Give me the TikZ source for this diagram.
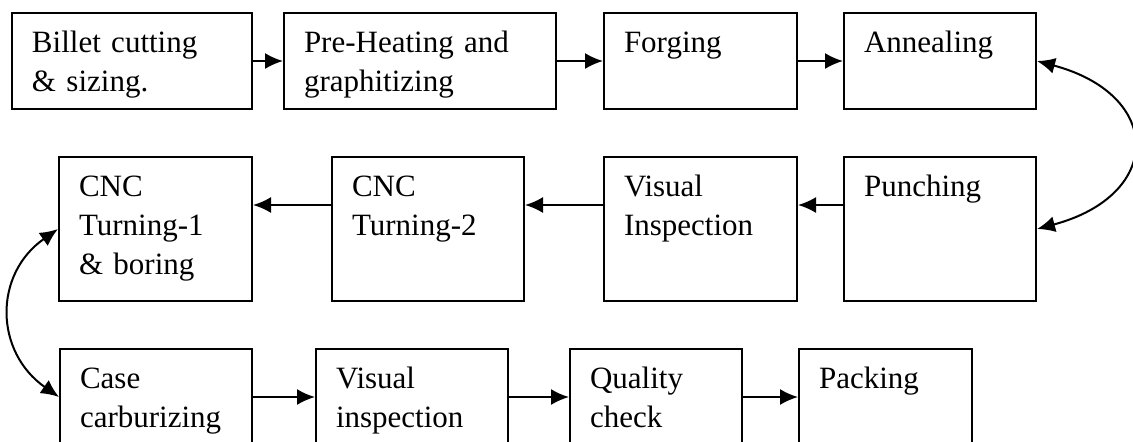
\documentclass[tikz,border=0pt]{standalone}
\usepackage{fontspec}
\setmainfont{Liberation Serif}
\usetikzlibrary{arrows.meta}
\tikzset{
	stage/.style 2 args={draw, line width=1pt, rectangle, anchor=north west, inner xsep=10pt, inner ysep=0pt, align=left, text width=#1, text height=19.5pt, text depth=#2, font=\fontsize{15.5}{19.5}\selectfont},
	flow/.style={line width=1pt, -{Latex[length=9pt,width=8pt]}},
	loop/.style={line width=1pt, {Latex[length=9pt,width=8pt]}-{Latex[length=9pt,width=8pt]}}
}
\begin{document}
\begin{tikzpicture}[x=0.5pt, y=-0.5pt]
	\useasboundingbox (0,0) rectangle (1133,441);
	\clip (0,0) rectangle (1133,441);
	% first row
	\node[stage={100pt}{28.5pt}] (billet) at (11,12) {Billet cutting\\\& sizing.};
	\node[stage={116pt}{28.5pt}] (preheat) at (283,12) {Pre-Heating and\\graphitizing};
	\node[stage={76.5pt}{28.5pt}] (forging) at (603,12) {Forging};
	\node[stage={76pt}{28.5pt}] (anneal) at (843,12) {Annealing};
	% second row, right to left
	\node[stage={76pt}{52.5pt}] (punch) at (843,156) {Punching};
	\node[stage={76.5pt}{52.5pt}] (visual) at (603,156) {Visual\\Inspection};
	\node[stage={76pt}{52.5pt}] (cnctwo) at (331,156) {CNC\\Turning-2};
	\node[stage={76.5pt}{52.5pt}] (cncone) at (58,156) {CNC\\Turning-1\\\& boring};
	% third row
	\node[stage={76pt}{28.5pt}] (carb) at (59,348) {Case\\carburizing};
	\node[stage={76pt}{28.5pt}] (inspect) at (315,348) {Visual\\inspection};
	\node[stage={66pt}{28.5pt}] (quality) at (569,348) {Quality\\check};
	\node[stage={66.5pt}{28.5pt}] (packing) at (798,348) {Packing};

	\draw[flow] (billet) -- (preheat); \draw[flow] (preheat) -- (forging); \draw[flow] (forging) -- (anneal);
	\draw[loop] (anneal.east) to[out=-15, in=15, looseness=2] (punch.east);
	\draw[flow] ([yshift=12pt]punch.west) -- ([yshift=12pt]visual.east);
	\draw[flow] ([yshift=12pt]visual.west) -- ([yshift=12pt]cnctwo.east);
	\draw[flow] ([yshift=12pt]cnctwo.west) -- ([yshift=12pt]cncone.east);
	\draw[loop] (cncone.west) to[out=215, in=145, looseness=1.2] (carb.west);
	\draw[flow] (carb) -- (inspect); \draw[flow] (inspect) -- (quality); \draw[flow] (quality) -- (packing);
	%\draw[flow] (packing) -- ++(60,0);
\end{tikzpicture}
\end{document}
